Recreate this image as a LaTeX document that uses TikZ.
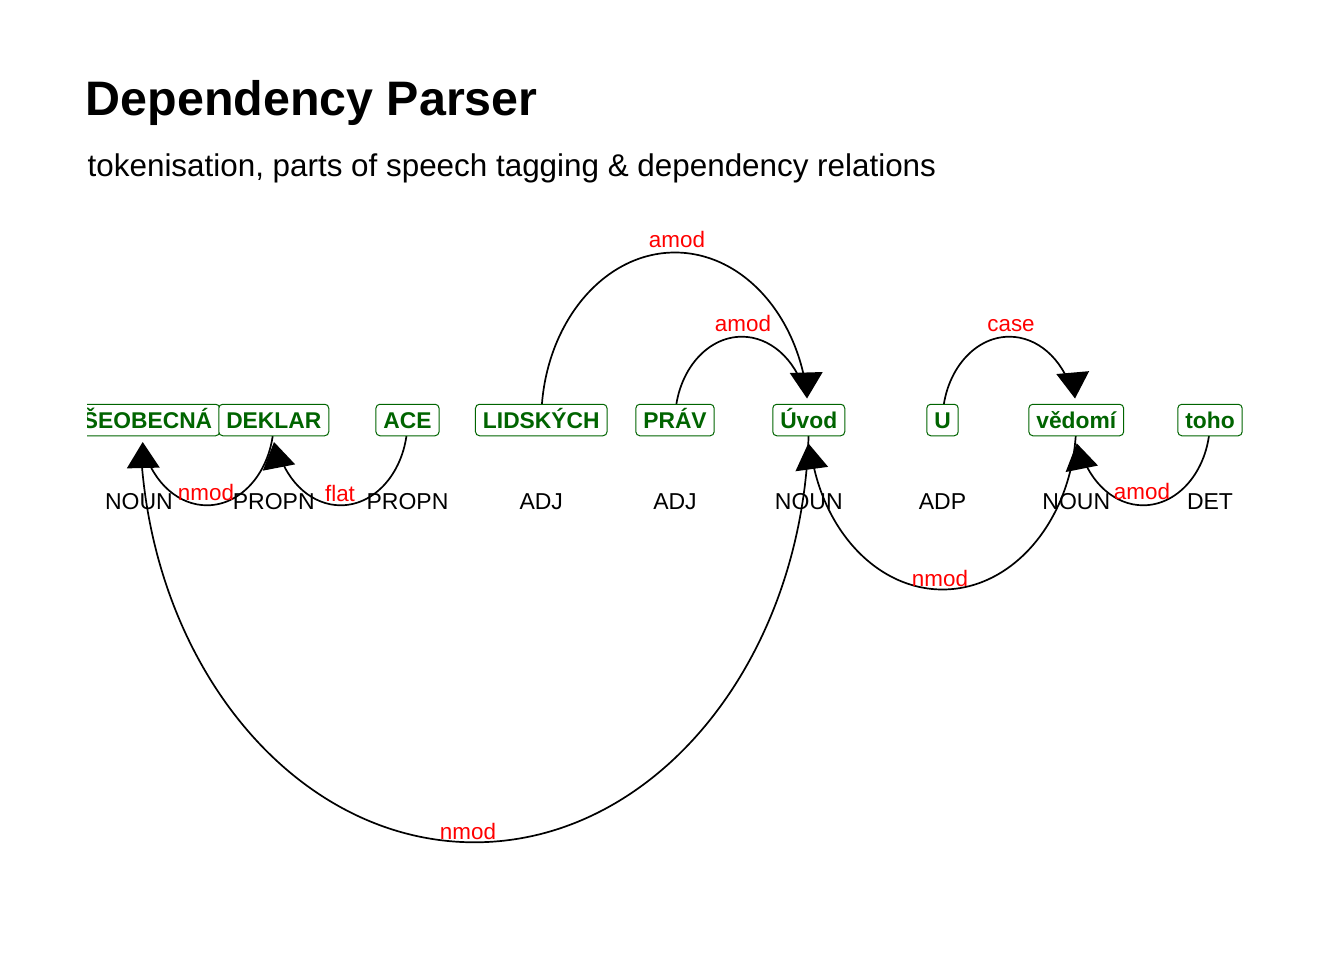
\documentclass[tikz,border=0pt]{standalone}
\usepackage{fontspec}
\setmainfont{Liberation Sans}
\definecolor{dkgreen}{RGB}{0,100,0}
\newcommand\tokfnt{\bfseries\fontsize{22.8}{27}\selectfont}
\newcommand\tagfnt{\fontsize{23}{27}\selectfont}
\newcommand\relfnt{\fontsize{22.4}{26}\selectfont}
\begin{document}
\begin{tikzpicture}[x=1pt,y=-1pt,
  tok/.style={draw=dkgreen, fill=white, rounded corners=4pt, line width=1pt,
    text=dkgreen, font=\tokfnt, inner xsep=7.5pt, inner ysep=7.25pt,
    text height=17pt, text depth=0pt, anchor=center},
  tagtxt/.style={font=\tagfnt, text=black, inner sep=0pt, anchor=base},
  rel/.style={font=\relfnt, text=red, inner sep=0pt, anchor=base},
  edge/.style={draw=black, line width=1.7pt},
  head/.style={fill=black}
]
\useasboundingbox (0,0) rectangle (1344,960);
\fill[white] (0,0) rectangle (1344,960);

\node[font=\bfseries\fontsize{48.4}{57}\selectfont, inner sep=0pt, anchor=base west] (title) at (85.5,116) {Dependency Parser};
\node[font=\fontsize{31.4}{37}\selectfont, inner sep=0pt, anchor=base west] (subtitle) at (87.5,176.5) {tokenisation, parts of speech tagging \& dependency relations};

\begin{scope}
\clip (87,0) rectangle (1344,960);
\coordinate (a1) at (140,421);
\coordinate (a2) at (273.75,421);
\coordinate (a3) at (407.5,421);
\coordinate (a4) at (541.25,421);
\coordinate (a5) at (675,421);
\coordinate (a6) at (808.75,421);
\coordinate (a7) at (942.5,421);
\coordinate (a8) at (1076.25,421);
\coordinate (a9) at (1210,421);

% arcs above (dependent -> head)
\draw[edge] (a4) arc[start angle=180, end angle=10.25, x radius=133.75pt, y radius=168.5pt];
\draw[edge] (a5) arc[start angle=180, end angle=20.8, x radius=66.875pt, y radius=84.3pt];
\draw[edge] (a7) arc[start angle=180, end angle=20.8, x radius=66.875pt, y radius=84.3pt];
% arcs below
\draw[edge] (a2) arc[start angle=0, end angle=-159.2, x radius=66.875pt, y radius=84.3pt];
\draw[edge] (a3) arc[start angle=0, end angle=-159.2, x radius=66.875pt, y radius=84.3pt];
\draw[edge] (a6) arc[start angle=0, end angle=-175.9, x radius=334.375pt, y radius=421.3pt];
\draw[edge] (a8) arc[start angle=0, end angle=-169.75, x radius=133.75pt, y radius=168.5pt];
\draw[edge] (a9) arc[start angle=0, end angle=-159.2, x radius=66.875pt, y radius=84.3pt];

% arrowheads at the heads
\coordinate (h6t) at (807,398.5);
\coordinate (h8t) at (1075,398.5);
\coordinate (h1b) at (142.7,442);
\coordinate (h2b) at (274,442);
\coordinate (h6b) at (808.3,443.3);
\coordinate (h8b) at (1076.7,443.3);
\fill[head, shift={(h6t)}, rotate=1.7] (0,0) -- (-16.5,-26) -- (16.5,-26) -- cycle;
\fill[head, shift={(h8t)}, rotate=5] (0,0) -- (-16.5,-26) -- (16.5,-26) -- cycle;
\fill[head, shift={(h1b)}, rotate=1.3] (0,0) -- (-16.5,26) -- (16.5,26) -- cycle;
\fill[head, shift={(h2b)}, rotate=11] (0,0) -- (-16.5,26) -- (16.5,26) -- cycle;
\fill[head, shift={(h6b)}, rotate=7.7] (0,0) -- (-16.5,26) -- (16.5,26) -- cycle;
\fill[head, shift={(h8b)}, rotate=11.3] (0,0) -- (-16.5,26) -- (16.5,26) -- cycle;

% relation labels
\node[rel] (r1) at (677,247.5) {amod};
\node[rel] (r2) at (743,331.5) {amod};
\node[rel] (r3) at (1011,331.5) {case};
\node[rel] (r4) at (206,500) {nmod};
\node[rel] (r5) at (340,501) {flat};
\node[rel] (r6) at (468,839) {nmod};
\node[rel] (r7) at (940,586) {nmod};
\node[rel] (r8) at (1142,499) {amod};

% token boxes
\node[tok] (w1) at (140,420) {VŠEOBECNÁ};
\node[tok] (w2) at (273.75,420) {DEKLAR};
\node[tok] (w3) at (407.5,420) {ACE};
\node[tok] (w4) at (541.25,420) {LIDSKÝCH};
\node[tok] (w5) at (675,420) {PRÁV};
\node[tok] (w6) at (808.75,420) {Úvod};
\node[tok] (w7) at (942.5,420) {U};
\node[tok] (w8) at (1076.25,420) {vědomí};
\node[tok] (w9) at (1210,420) {toho};

% POS tags
\node[tagtxt] (p1) at (139,509) {NOUN};
\node[tagtxt] (p2) at (273.75,509) {PROPN};
\node[tagtxt] (p3) at (407.5,509) {PROPN};
\node[tagtxt] (p4) at (541.25,509) {ADJ};
\node[tagtxt] (p5) at (675,509) {ADJ};
\node[tagtxt] (p6) at (808.75,509) {NOUN};
\node[tagtxt] (p7) at (942.5,509) {ADP};
\node[tagtxt] (p8) at (1076.25,509) {NOUN};
\node[tagtxt] (p9) at (1210,509) {DET};
\end{scope}
\end{tikzpicture}
\end{document}
